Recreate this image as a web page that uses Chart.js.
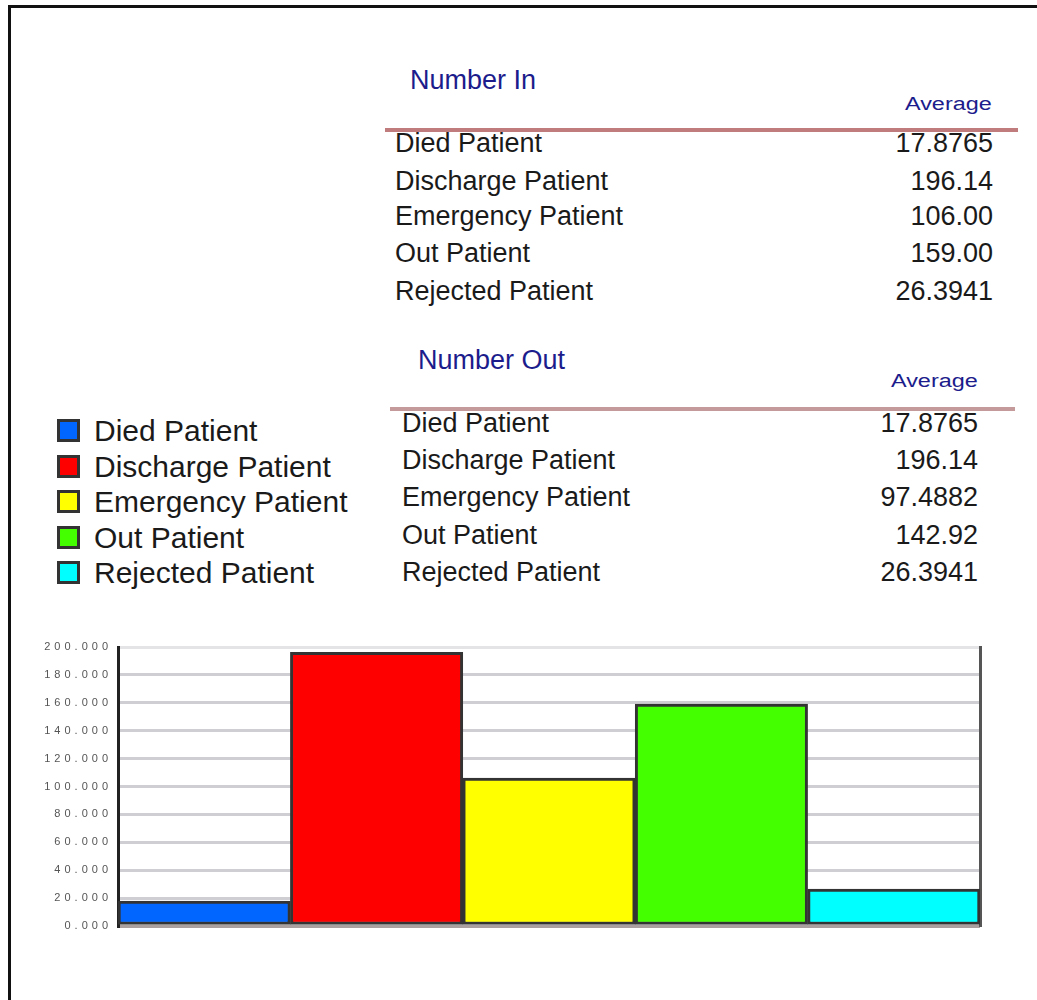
<!DOCTYPE html>
<html>
<head>
<meta charset="utf-8">
<script src="https://cdn.jsdelivr.net/npm/chart.js@4/dist/chart.umd.min.js"></script>
<style>
  html, body { margin: 0; padding: 0; background: #fff; }
  body { width: 1037px; height: 1000px; position: relative; overflow: hidden; font-family: "Liberation Sans", Arial, sans-serif; }
  .t { position: absolute; white-space: nowrap; line-height: 1; }
  #frame { position: absolute; left: 8px; top: 5px; width: 1100px; height: 1100px; border-top: 3px solid #111; border-left: 3px solid #111; }
  .rule { position: absolute; height: 4px; }
  .sw { position: absolute; width: 17px; height: 17px; border: 3px solid #333; }
  #c { position: absolute; left: 0; top: 600px; }
</style>
</head>
<body>
<div id="frame"></div>
<canvas id="c" width="1037" height="360"></canvas>
<script>
// ---- data ----
const categories = ['Died Patient', 'Discharge Patient', 'Emergency Patient', 'Out Patient', 'Rejected Patient'];
const numberIn = [17.8765, 196.14, 106.00, 159.00, 26.3941];
const numberOut = [17.8765, 196.14, 97.4882, 142.92, 26.3941];
const barColors = ['#0066ff', '#ff0000', '#ffff00', '#44ff00', '#00ffff'];
const tableTitles = ['Number In', 'Number Out'];
const columnTitle = 'Average';

// ---- helpers ----
function fmt(v) { return v >= 100 ? v.toFixed(2) : v.toFixed(4); }
function place(text, x, cy, o) {
  const d = document.createElement('div');
  d.className = 't';
  d.textContent = text;
  const size = o.size;
  d.style.fontSize = size + 'px';
  d.style.color = o.color || '#1a1a1a';
  d.style.top = (cy - 0.4725 * size) + 'px';
  if (o.align === 'right') {
    d.style.right = (1037 - x) + 'px';
    if (o.sx) { d.style.transform = 'scaleX(' + o.sx + ')'; d.style.transformOrigin = 'right center'; }
  } else {
    d.style.left = x + 'px';
    if (o.sx) { d.style.transform = 'scaleX(' + o.sx + ')'; d.style.transformOrigin = 'left center'; }
  }
  document.body.appendChild(d);
  return d;
}
function rule(x1, x2, y, color) {
  const d = document.createElement('div');
  d.className = 'rule';
  d.style.left = x1 + 'px';
  d.style.width = (x2 - x1) + 'px';
  d.style.top = (y - 2) + 'px';
  d.style.background = color;
  document.body.appendChild(d);
}

// ---- table: Number In ----
place(tableTitles[0], 410, 80, { size: 27, color: '#1c1c8c' });
place(columnTitle, 992, 104, { size: 18, color: '#1c1c8c', align: 'right', sx: 1.3 });
const inRows = [143, 181, 216, 253, 291];
categories.forEach((c, i) => {
  place(c, 395, inRows[i], { size: 27 });
  place(fmt(numberIn[i]), 993, inRows[i], { size: 27, align: 'right' });
});
rule(385, 1018, 130, '#c07c7c');

// ---- table: Number Out ----
place(tableTitles[1], 418, 360, { size: 27, color: '#1c1c8c' });
place(columnTitle, 978, 381, { size: 18, color: '#1c1c8c', align: 'right', sx: 1.3 });
const outRows = [423, 460, 497, 535, 572];
categories.forEach((c, i) => {
  place(c, 402, outRows[i], { size: 27 });
  place(fmt(numberOut[i]), 978, outRows[i], { size: 27, align: 'right' });
});
rule(390, 1015, 409, '#c49a9a');

// ---- legend ----
const legRows = [430, 466, 501, 537, 572];
categories.forEach((c, i) => {
  const s = document.createElement('div');
  s.className = 'sw';
  s.style.left = '57px';
  s.style.top = (legRows[i] - 11) + 'px';
  s.style.background = barColors[i];
  document.body.appendChild(s);
  place(c, 94, legRows[i], { size: 30 });
});

// ---- chart ----
const spacing = {
  id: 'tickSpacing',
  beforeDraw(chart) { chart.ctx.letterSpacing = '4px'; },
  beforeDatasetsDraw(chart) { chart.ctx.letterSpacing = '0px'; }
};
new Chart(document.getElementById('c'), {
  type: 'bar',
  data: {
    labels: categories,
    datasets: [{
      data: numberIn,
      backgroundColor: barColors,
      borderColor: '#333',
      borderWidth: 3,
      borderSkipped: false,
      barPercentage: 1,
      categoryPercentage: 1
    }]
  },
  options: {
    responsive: false,
    animation: false,
    events: [],
    layout: { padding: { left: 18, right: 57, top: 47, bottom: 34 } },
    plugins: { legend: { display: false }, tooltip: { enabled: false } },
    scales: {
      x: { display: false },
      y: {
        min: 0, max: 200,
        ticks: {
          stepSize: 20,
          callback: v => Number(v).toFixed(3),
          font: { family: 'Liberation Sans', size: 11 },
          color: '#555555',
          padding: 6
        },
        grid: {
          drawTicks: false,
          lineWidth: 3,
          color: c => c.tick && c.tick.value === 0 ? '#aaa09f' : (c.tick && c.tick.value === 200 ? '#e4e4e6' : '#cfcfd3')
        },
        border: { color: '#222', width: 3 },
        afterFit: s => { s.width = 100; }
      },
      y2: {
        position: 'right',
        min: 0, max: 200,
        ticks: { display: false },
        grid: { display: false, drawTicks: false },
        border: { color: '#555', width: 3, dash: [26, 2] },
        afterFit: s => { s.width = 0; }
      }
    }
  },
  plugins: [spacing]
});
</script>
</body>
</html>
